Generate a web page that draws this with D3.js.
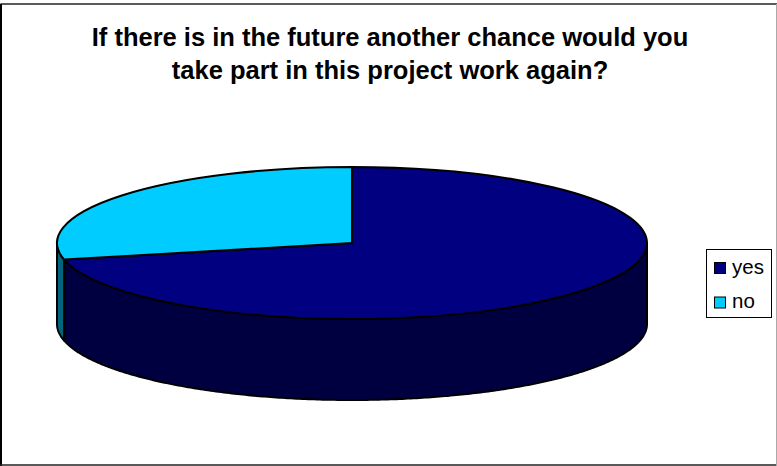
<!DOCTYPE html>
<html>
<head>
<meta charset="utf-8">
<script src="https://cdn.jsdelivr.net/npm/d3@7"></script>
<style>
html,body{margin:0;padding:0;background:#fff}
svg{display:block}
text{font-family:"Liberation Sans",Arial,sans-serif;fill:#000}
</style>
</head>
<body>
<svg id="chart" width="777" height="466"></svg>
<script>
const categories = ["yes", "no"];
const shares = [71.5, 28.5];
const topColors = ["#000080", "#00ccff"];
const wallColors = ["#000040", "#006680"];
const titleLines = ["If there is in the future another chance would you", "take part in this project work again?"];

const W = 777, H = 466;
const cx = 352, cy = 243, rx = 295, ry = 76, depth = 81;
const svg = d3.select("#chart");

// Outer chart frame
svg.append("line").attr("x1", 0.5).attr("x2", W).attr("y1", 4).attr("y2", 4).attr("stroke", "#222").attr("stroke-width", 1.6);
svg.append("line").attr("x1", 1).attr("x2", 1).attr("y1", 4).attr("y2", H).attr("stroke", "#000").attr("stroke-width", 2);
svg.append("line").attr("x1", 0).attr("x2", W).attr("y1", 465).attr("y2", 465).attr("stroke", "#222").attr("stroke-width", 1.5);
svg.append("line").attr("x1", 776.5).attr("x2", 776.5).attr("y1", 4).attr("y2", H).attr("stroke", "#aaa").attr("stroke-width", 1);

svg.append("g").selectAll("text").data(titleLines).join("text")
  .attr("x", 390).attr("y", (d, i) => 46 + i * 33)
  .attr("text-anchor", "middle")
  .attr("font-size", 25.5).attr("font-weight", "bold")
  .text(d => d);

// Slices start at 12 o'clock; "yes" runs clockwise and "no" closes the circle
const pie = d3.pie().sort(null).value(d => d)(shares);
const arcGen = d3.arc().innerRadius(0).outerRadius(rx);
const px = a => cx + rx * Math.sin(a);
const py = a => cy - ry * Math.cos(a);

// Front wall of a slice, limited to the visible lower half of the ellipse
function wallPath(a0, a1) {
  const lo = Math.max(a0, Math.PI / 2), hi = Math.min(a1, Math.PI * 3 / 2);
  if (lo >= hi) return null;
  const angles = d3.range(lo, hi, 0.01).concat([hi]);
  const upper = angles.map(a => [px(a), py(a)]);
  const lower = angles.slice().reverse().map(a => [px(a), py(a) + depth]);
  return d3.line()(upper.concat(lower)) + "Z";
}

const walls = svg.append("g");
pie.forEach((s, i) => {
  const d = wallPath(s.startAngle, s.endAngle);
  if (d) walls.append("path").attr("d", d)
    .attr("fill", wallColors[i]).attr("stroke", "#000").attr("stroke-width", 2).attr("stroke-linejoin", "round");
});

svg.append("g")
  .attr("transform", `translate(${cx},${cy}) scale(1,${ry / rx})`)
  .selectAll("path").data(pie).join("path")
  .attr("d", arcGen)
  .attr("fill", (d, i) => topColors[i])
  .attr("stroke", "#000").attr("stroke-width", 2)
  .attr("stroke-linejoin", "round")
  .attr("vector-effect", "non-scaling-stroke");

// Legend
const legend = svg.append("g");
legend.append("rect").attr("x", 706.5).attr("y", 249.5).attr("width", 65).attr("height", 68)
  .attr("fill", "#fff").attr("stroke", "#000").attr("stroke-width", 1);
const rowY = d3.scalePoint().domain(categories).range([268, 302.5]);
categories.forEach((c, i) => {
  legend.append("rect").attr("x", 714.5).attr("y", rowY(c) - 5.5).attr("width", 11).attr("height", 11)
    .attr("fill", topColors[i]).attr("stroke", "#000").attr("stroke-width", 1);
  legend.append("text").attr("x", 732).attr("y", rowY(c) + 5.5).attr("font-size", 20.5).text(c);
});
</script>
</body>
</html>
